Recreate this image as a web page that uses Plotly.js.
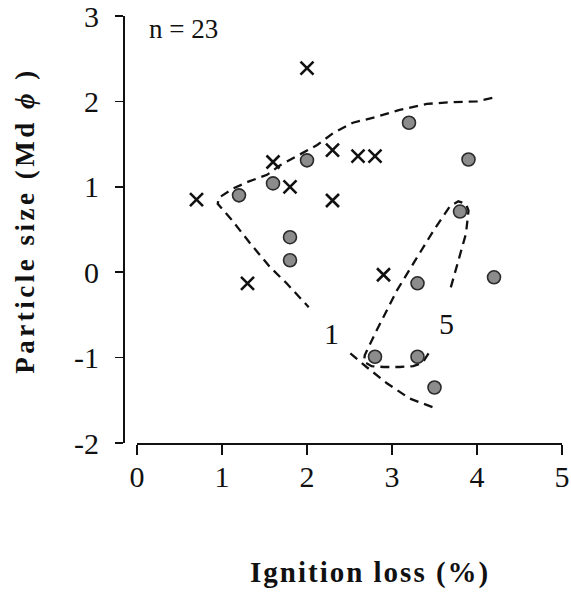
<!DOCTYPE html>
<html>
<head>
<meta charset="utf-8">
<script src="https://cdn.plot.ly/plotly-3.0.1.min.js"></script>
<style>body{margin:0;background:#fff;} #chart{width:571px;height:592px;}</style>
</head>
<body>
<div id="chart"></div>
<script>
// Crosses (×)
var crossX = [0.7, 1.3, 1.6, 1.8, 2.0, 2.3, 2.3, 2.6, 2.8, 2.9];
var crossY = [0.85, -0.13, 1.29, 1.0, 2.39, 1.43, 0.84, 1.36, 1.36, -0.03];
// Circles (●)
var dotX = [1.2, 1.6, 1.8, 1.8, 2.0, 3.2, 3.9, 3.8, 3.3, 4.2, 2.8, 3.3, 3.5];
var dotY = [0.9, 1.04, 0.41, 0.14, 1.31, 1.75, 1.32, 0.71, -0.13, -0.06, -0.99, -0.99, -1.35];
// Dashed boundary "1"
var line1X = [4.18, 4.0, 3.68, 3.41, 3.09, 2.82, 2.54, 2.31, 2.12, 1.86, 1.68, 1.53, 1.31, 1.13, 1.0, 0.96, 0.95, 1.1, 1.33, 1.565, 1.76, 2.02, null, 2.51, 2.70, 2.94, 3.21, 3.53];
var line1Y = [2.04, 2.0, 1.99, 1.97, 1.90, 1.82, 1.75, 1.63, 1.49, 1.35, 1.25, 1.14, 1.06, 0.98, 0.90, 0.87, 0.80, 0.63, 0.34, 0.06, -0.13, -0.41, null, -0.95, -1.11, -1.30, -1.48, -1.60];
// Dashed boundary "5"
var line5X = [3.43, 3.36, 3.25, 3.09, 2.90, 2.76, 2.67, 2.68, 2.82, 3.06, 3.25, 3.49, 3.68, 3.78, 3.87, 3.90, 3.87, 3.78, 3.68];
var line5Y = [-0.95, -1.06, -1.10, -1.11, -1.11, -1.10, -1.05, -0.97, -0.68, -0.21, 0.10, 0.49, 0.77, 0.83, 0.80, 0.72, 0.45, 0.14, -0.22];
// Tick labels
var xTickVals = [0, 1, 2, 3, 4, 5];
var xTickText = ["0", "1", "2", "3", "4", "5"];
var yTickVals = [-2, -1, 0, 1, 2, 3];
var yTickText = ["-2", "-1", "0", "1", "2", "3"];

var serif = "Liberation Serif, Times New Roman, serif";
var dashStyle = {color: "#111", width: 2.3, dash: "9px,6px"};

var traces = [
  {x: line1X, y: line1Y, mode: "lines", line: dashStyle, connectgaps: false, hoverinfo: "skip"},
  {x: line5X, y: line5Y, mode: "lines", line: dashStyle, hoverinfo: "skip"},
  {x: crossX, y: crossY, mode: "markers",
   marker: {symbol: "x-thin-open", size: 13, color: "#111", line: {width: 2.6, color: "#111"}}},
  {x: dotX, y: dotY, mode: "markers",
   marker: {symbol: "circle", size: 13, color: "#8c8c8c", line: {width: 1.6, color: "#2a2a2a"}}}
];

var layout = {
  width: 571, height: 592,
  margin: {l: 123, r: 9, t: 16, b: 149, pad: 0},
  paper_bgcolor: "#fff", plot_bgcolor: "#fff",
  showlegend: false,
  font: {family: serif, color: "#111"},
  xaxis: {
    domain: [0.0319, 1], range: [0, 5], anchor: "y",
    showgrid: false, zeroline: false, showline: true, linecolor: "#111", linewidth: 1.5,
    ticks: "outside", ticklen: 10, tickwidth: 1.5, tickcolor: "#111",
    tickmode: "array", tickvals: xTickVals, ticktext: xTickText,
    tickfont: {family: serif, size: 30, color: "#111"}, ticklabelstandoff: -4,
    ticklabeloverflow: "allow"
  },
  yaxis: {
    range: [-2, 3], anchor: "free", position: 0,
    showgrid: false, zeroline: false, showline: true, linecolor: "#111", linewidth: 1.5,
    ticks: "outside", ticklen: 8, tickwidth: 1.5, tickcolor: "#111",
    tickmode: "array", tickvals: yTickVals, ticktext: yTickText,
    tickfont: {family: serif, size: 30, color: "#111"}, ticklabelstandoff: 10,
    ticklabeloverflow: "allow"
  },
  annotations: [
    {text: "n = 23", x: 0.12, y: 2.85, xref: "x", yref: "y", xanchor: "left", yanchor: "middle",
     showarrow: false, font: {family: serif, size: 27, color: "#111"}},
    {text: "1", x: 2.29, y: -0.72, xref: "x", yref: "y", showarrow: false,
     font: {family: serif, size: 30, color: "#111"}},
    {text: "5", x: 3.64, y: -0.60, xref: "x", yref: "y", showarrow: false,
     font: {family: serif, size: 30, color: "#111"}},
    {text: "<b>Ignition loss (%)</b>", x: 0.5626, y: -0.3044, xref: "paper", yref: "paper",
     xanchor: "center", yanchor: "middle", showarrow: false,
     font: {family: serif, size: 29, color: "#111"}},
    {text: "<b>Particle size (Md <i>ϕ</i> )</b>", x: -0.2232, y: 0.52, xref: "paper", yref: "paper",
     xanchor: "center", yanchor: "middle", textangle: -90, showarrow: false,
     font: {family: serif, size: 27, color: "#111"}}
  ]
};

Plotly.newPlot("chart", traces, layout, {displayModeBar: false, staticPlot: true}).then(function (gd) {
  var texts = gd.querySelectorAll(".annotation-text");
  texts.forEach(function (t) {
    var s = t.textContent;
    if (s.indexOf("Ignition") === 0) t.style.letterSpacing = "2px";
    if (s.indexOf("Particle") === 0) t.style.letterSpacing = "3.5px";
  });
});
</script>
</body>
</html>
